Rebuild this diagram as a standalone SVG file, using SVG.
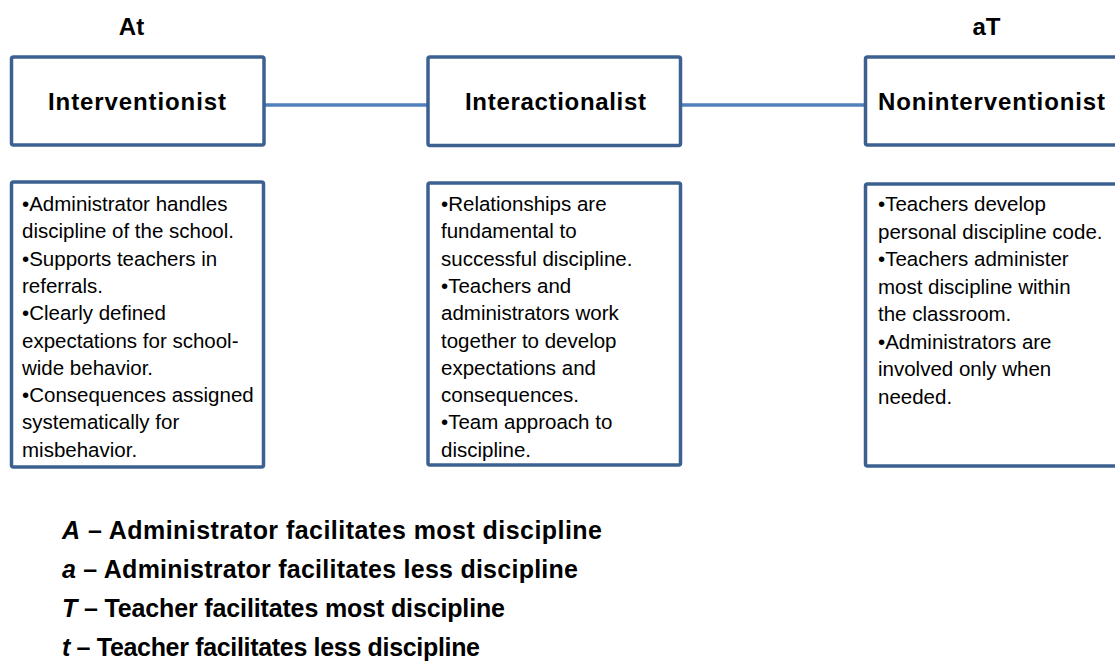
<svg xmlns="http://www.w3.org/2000/svg" width="1115" height="661" viewBox="0 0 1115 661">
<style>
.box{fill:#ffffff;stroke:#3c6191;stroke-width:3.5}
.conn{stroke:#4f81bd;stroke-width:3.5;fill:none}
.title{font-family:"Liberation Sans",Arial,sans-serif;font-weight:bold;font-size:24px;fill:#000}
.body{font-family:"Liberation Sans",Arial,sans-serif;font-size:20.5px;fill:#000}
.legend{font-family:"Liberation Sans",Arial,sans-serif;font-weight:bold;font-size:25px;fill:#000}
.it{font-style:italic}
</style>
<rect width="1115" height="661" fill="#ffffff"/>
<g id="connectors">
<line class="conn" x1="264" y1="105" x2="428" y2="105"/>
<line class="conn" x1="680.5" y1="105" x2="865.5" y2="105"/>
</g>
<g id="label-At"><text class="title" x="131.5" y="35" text-anchor="middle">At</text></g>
<g id="label-aT"><text class="title" x="986.5" y="35" text-anchor="middle">aT</text></g>
<g id="node-interventionist">
<rect class="box" x="11.5" y="57" width="252.5" height="88" rx="2"/>
<text class="title" x="48" y="110" textLength="178">Interventionist</text>
</g>
<g id="node-interactionalist">
<rect class="box" x="428" y="57" width="252.5" height="88.5" rx="2"/>
<text class="title" x="465" y="110" textLength="181">Interactionalist</text>
</g>
<g id="node-noninterventionist">
<rect class="box" x="865.5" y="57" width="260" height="88" rx="2"/>
<text class="title" x="878" y="110" textLength="227">Noninterventionist</text>
</g>
<g id="desc-interventionist">
<rect class="box" x="11.5" y="182" width="252" height="285" rx="2"/>
<text class="body" x="22" y="211">•Administrator handles</text>
<text class="body" x="22" y="238.3">discipline of the school.</text>
<text class="body" x="22" y="265.6">•Supports teachers in</text>
<text class="body" x="22" y="292.9">referrals.</text>
<text class="body" x="22" y="320.2">•Clearly defined</text>
<text class="body" x="22" y="347.5">expectations for school-</text>
<text class="body" x="22" y="374.8">wide behavior.</text>
<text class="body" x="22" y="402.1">•Consequences assigned</text>
<text class="body" x="22" y="429.4">systematically for</text>
<text class="body" x="22" y="456.7">misbehavior.</text>
</g>
<g id="desc-interactionalist">
<rect class="box" x="428" y="183" width="252.5" height="282" rx="2"/>
<text class="body" x="441" y="211">•Relationships are</text>
<text class="body" x="441" y="238.3">fundamental to</text>
<text class="body" x="441" y="265.6">successful discipline.</text>
<text class="body" x="441" y="292.9">•Teachers and</text>
<text class="body" x="441" y="320.2">administrators work</text>
<text class="body" x="441" y="347.5">together to develop</text>
<text class="body" x="441" y="374.8">expectations and</text>
<text class="body" x="441" y="402.1">consequences.</text>
<text class="body" x="441" y="429.4">•Team approach to</text>
<text class="body" x="441" y="456.7">discipline.</text>
</g>
<g id="desc-noninterventionist">
<rect class="box" x="865.5" y="184" width="260" height="282" rx="2"/>
<text class="body" x="878" y="211">•Teachers develop</text>
<text class="body" x="878" y="238.5">personal discipline code.</text>
<text class="body" x="878" y="266">•Teachers administer</text>
<text class="body" x="878" y="293.5">most discipline within</text>
<text class="body" x="878" y="321">the classroom.</text>
<text class="body" x="878" y="348.5">•Administrators are</text>
<text class="body" x="878" y="376">involved only when</text>
<text class="body" x="878" y="403.5">needed.</text>
</g>
<g id="legend">
<text class="legend" x="62" y="539" textLength="540"><tspan class="it">A</tspan> – Administrator facilitates most discipline</text>
<text class="legend" x="62" y="578" textLength="516"><tspan class="it">a</tspan> – Administrator facilitates less discipline</text>
<text class="legend" x="62" y="617" textLength="443"><tspan class="it">T</tspan> – Teacher facilitates most discipline</text>
<text class="legend" x="62" y="656" textLength="418"><tspan class="it">t</tspan> – Teacher facilitates less discipline</text>
</g>
</svg>
